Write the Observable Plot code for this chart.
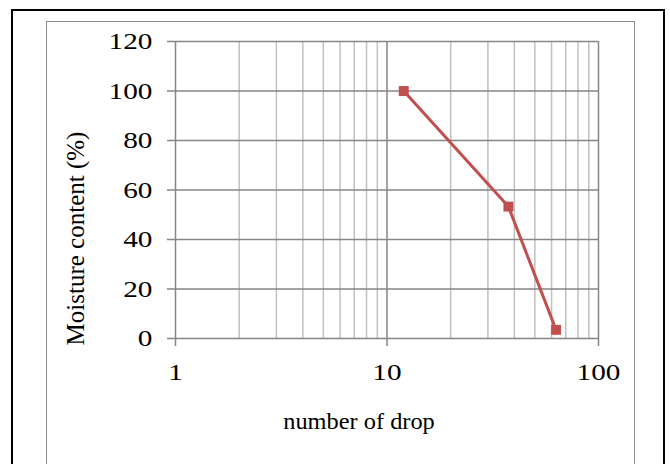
<!DOCTYPE html>
<html>
<head>
<meta charset="utf-8">
<script src="https://cdn.jsdelivr.net/npm/d3@7"></script>
<script src="https://cdn.jsdelivr.net/npm/@observablehq/plot@0.6"></script>
<style>
  html, body { margin: 0; padding: 0; background: #fff; }
  #wrap { position: relative; width: 670px; height: 464px; overflow: hidden; background: #fff; }
  .outer { position: absolute; left: 11px; top: 9px; width: 654px; height: 480px;
           border: 2px solid #000; box-sizing: border-box; }
  .inner { position: absolute; left: 45.5px; top: 20.5px; width: 589.5px; height: 480px;
           border: 1.5px solid #8c8c8c; box-sizing: border-box; }
  #chart { position: absolute; left: 0; top: 0; }
</style>
</head>
<body>
<div id="wrap">
  <div class="outer"></div>
  <div class="inner"></div>
  <div id="chart"></div>
</div>
<script>
// Data
const drops = [12, 37.5, 63];
const moisture = [100, 53.3, 3.5];

// Axis ticks
const xTicks = [1, 10, 100];
const xMinor = [2, 3, 4, 5, 6, 7, 8, 9, 20, 30, 40, 50, 60, 70, 80, 90];
const yTicks = [0, 20, 40, 60, 80, 100, 120];

const xLabel = "number of drop";
const yLabel = "Moisture content (%)";

const data = drops.map((d, i) => ({drop: d, moisture: moisture[i]}));

const chart = Plot.plot({
  width: 670,
  height: 464,
  marginLeft: 175,
  marginRight: 72,
  marginTop: 41,
  marginBottom: 126,
  style: {
    fontFamily: "'Liberation Serif', 'Times New Roman', serif",
    fontSize: "24px",
    color: "#000",
    background: "transparent",
    overflow: "visible"
  },
  x: {type: "log", domain: [1, 100]},
  y: {domain: [0, 120]},
  marks: [
    Plot.ruleX(xMinor, {stroke: "#c0c0c0", strokeWidth: 1.5}),
    Plot.ruleX(xTicks, {stroke: "#868686", strokeWidth: 1.5}),
    Plot.ruleY(yTicks, {stroke: "#868686", strokeWidth: 1.5}),
    Plot.axisX({ticks: xTicks, tickSize: 8, tickPadding: 16, tickFormat: d => String(d),
                label: null, stroke: "#868686", strokeWidth: 1.5, fill: "#000"}),
    Plot.axisY({ticks: yTicks, tickSize: 8, tickPadding: 15, tickFormat: d => String(d),
                label: null, stroke: "#868686", strokeWidth: 1.5, fill: "#000"}),
    Plot.line(data, {x: "drop", y: "moisture", stroke: "#C0504D", strokeWidth: 3}),
    Plot.dot(data, {x: "drop", y: "moisture", symbol: "square", r: 5.6, fill: "#C0504D"}),
    Plot.text([xLabel], {frameAnchor: "bottom", dx: -28, dy: 83, lineAnchor: "middle", textAnchor: "middle",
                         fill: "#000", fontSize: 23, className: "xlabel"}),
    Plot.text([yLabel], {frameAnchor: "left", dx: -100, dy: 48.5, rotate: -90, lineAnchor: "middle",
                         textAnchor: "middle", fill: "#000", fontSize: 25, className: "ylabel"})
  ]
});
document.getElementById("chart").appendChild(chart);

// Stretch glyphs horizontally about each label's anchor point
function stretch(sel, sx) {
  sel.each(function () {
    const t = this.getAttribute("transform") || "";
    this.setAttribute("transform", `${t} scale(${sx},1)`);
  });
}
const svg = d3.select(chart);
stretch(svg.selectAll('g[aria-label$="tick label"] text'), 1.22);
stretch(svg.selectAll(".xlabel text"), 1.06);
</script>
</body>
</html>
